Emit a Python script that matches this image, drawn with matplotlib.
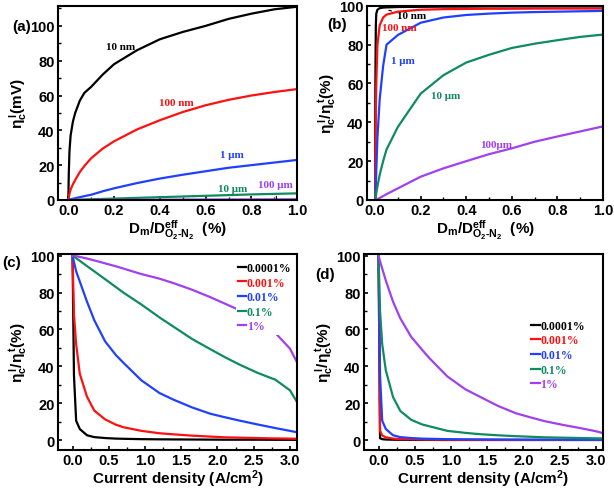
import numpy as np
import matplotlib
matplotlib.use("Agg")
import matplotlib.pyplot as plt
from matplotlib.ticker import MultipleLocator

plt.rcParams['font.family'] = ['Liberation Sans', 'DejaVu Sans']
plt.rcParams['font.weight'] = 'bold'
plt.rcParams['axes.labelweight'] = 'bold'
plt.rcParams['mathtext.fontset'] = 'custom'
plt.rcParams['mathtext.rm'] = 'Liberation Sans:bold'
plt.rcParams['mathtext.it'] = 'Liberation Sans:italic:bold'
plt.rcParams['mathtext.bf'] = 'Liberation Sans:bold'
plt.rcParams['mathtext.default'] = 'rm'

BLACK, RED, BLUE, GREEN, PURPLE = '#000000', '#ff1010', '#2040ff', '#108a60', '#a040f0'
colors = [BLACK, RED, BLUE, GREEN, PURPLE]

# (a) overpotential vs diffusivity ratio
xa = [0, 0.002, 0.005, 0.01, 0.02, 0.03, 0.05, 0.07, 0.1, 0.15, 0.2, 0.3, 0.4, 0.5, 0.6, 0.7, 0.8, 0.9, 1.0]
a_10nm = [0, 15, 28, 37, 45, 50, 57, 61.5, 65, 72, 78, 86, 92.3, 96.5, 100, 104, 107, 109.5, 111]
a_100nm = [0, 1.5, 3.5, 6, 9, 11.5, 16, 19.5, 24, 29.5, 33.7, 40.5, 45.8, 50.5, 54.4, 57.5, 60, 62, 63.7]
a_1um = [0, 0.1, 0.2, 0.4, 0.7, 1, 1.6, 2.2, 3, 5, 6.7, 9.7, 12.3, 14.5, 16.5, 18.5, 20, 21.5, 23]
a_10um = [0, 0, 0.02, 0.04, 0.08, 0.12, 0.2, 0.28, 0.4, 0.6, 0.8, 1.2, 1.6, 2.0, 2.4, 2.8, 3.2, 3.5, 3.8]
a_100um = [0, 0, 0, 0, 0.01, 0.01, 0.02, 0.03, 0.04, 0.06, 0.08, 0.12, 0.16, 0.2, 0.24, 0.28, 0.32, 0.36, 0.4]

# (b) ratio vs diffusivity ratio
xb = [0, 0.001, 0.003, 0.005, 0.01, 0.02, 0.035, 0.05, 0.1, 0.2, 0.3, 0.4, 0.5, 0.6, 0.7, 0.8, 0.9, 1.0]
b_10nm = [0, 60, 90, 96, 98, 98.8, 99.1, 99.2, 99.4, 99.5, 99.6, 99.6, 99.7, 99.7, 99.7, 99.7, 99.7, 99.7]
b_100nm = [0, 20, 45, 60, 80, 90, 94, 95.5, 97, 98, 98.3, 98.4, 98.5, 98.5, 98.6, 98.6, 98.6, 98.6]
b_1um = [0, 2, 8, 15, 32, 52, 69, 80, 85, 91.3, 94, 95.3, 96, 96.5, 96.8, 97, 97.2, 97.4]
b_10um = [0, 0.6, 2, 3.5, 7, 13, 20, 26, 37.7, 54.8, 64.3, 70.8, 74.8, 78.3, 80.5, 82.3, 84, 85.2]
b_100um = [0, 0, 0.1, 0.2, 0.5, 1, 2, 3, 6, 12, 16.3, 20, 23.6, 26.6, 30, 32.7, 35.3, 37.9]

# (c), (d) ratio vs current density
xj = [0, 0.02, 0.05, 0.1, 0.2, 0.3, 0.45, 0.6, 0.7, 0.95, 1.2, 1.4, 1.65, 1.9, 2.1, 2.3, 2.55, 2.8, 3.0, 3.1]
c_1 = [100, 35, 10.5, 6, 2.6, 1.6, 1.1, 0.8, 0.7, 0.5, 0.4, 0.35, 0.3, 0.25, 0.2, 0.2, 0.2, 0.15, 0.15, 0.1]
c_2 = [100, 68, 52, 36, 23.5, 16, 11.2, 8.3, 7, 5, 3.7, 3.1, 2.4, 1.9, 1.5, 1.3, 1.1, 0.9, 0.8, 0.7]
c_3 = [100, 96.5, 91.5, 86, 75, 65, 53.5, 46, 42, 32.4, 25.5, 21.8, 17.7, 14.3, 12.4, 10.6, 8.5, 6.5, 5, 4.2]
c_4 = [100, 99.4, 98.6, 97.2, 94.3, 91.5, 87.2, 82.9, 80, 73.5, 66.5, 61.3, 54.8, 49.3, 45, 41, 36.5, 32.7, 27, 20.5]
c_5 = [100, 99.9, 99.7, 99.3, 98.4, 97.4, 95.8, 94.2, 93, 90, 87.5, 85, 81.5, 77.5, 74, 70.5, 66, 58, 49.6, 42]
d_1 = [100, 1, 0.5, 0.3, 0.2, 0.15, 0.1, 0.1, 0.1, 0.05, 0.05, 0.05, 0.05, 0.05, 0.05, 0.05, 0.05, 0.05, 0.05, 0.05]
d_2 = [100, 5, 2.5, 1.5, 0.8, 0.5, 0.4, 0.3, 0.25, 0.2, 0.15, 0.1, 0.1, 0.1, 0.1, 0.1, 0.1, 0.1, 0.1, 0.1]
d_3 = [100, 35, 10.5, 6, 2.6, 1.6, 1.1, 0.8, 0.7, 0.5, 0.4, 0.35, 0.3, 0.25, 0.2, 0.2, 0.2, 0.15, 0.15, 0.1]
d_4 = [100, 70, 52, 37.8, 23.3, 15.8, 11, 8.5, 7.5, 5, 3.9, 3.2, 2.6, 2.1, 1.8, 1.5, 1.3, 1.1, 0.95, 0.9]
d_5 = [100, 97, 93, 86.5, 75, 66, 56, 49, 44.5, 34.5, 27.5, 23.5, 18.5, 14.5, 12.3, 10.2, 8.2, 6.4, 4.8, 3.8]

legend_labels = ['0.0001%', '0.001%', '0.01%', '0.1%', '1%']

fig = plt.figure(figsize=(6.14, 4.89), dpi=100)
ax_a = fig.add_axes([0.0945, 0.589, 0.3895, 0.397])
ax_b = fig.add_axes([0.598, 0.589, 0.384, 0.397])
ax_c = fig.add_axes([0.0945, 0.078, 0.3895, 0.401])
ax_d = fig.add_axes([0.593, 0.078, 0.389, 0.401])

lw = 1.6
serif = dict(family='Liberation Serif', weight='bold', fontsize=8)

def style(ax):
    for s in ax.spines.values():
        s.set_linewidth(1.5)
    ax.tick_params(direction='in', which='both', labelsize=10.5, top=False, right=False, pad=2.5)
    ax.tick_params(which='major', length=3, width=1.2)
    ax.tick_params(which='minor', length=2, width=1)
    for t in ax.get_xticklabels() + ax.get_yticklabels():
        t.set_fontweight('bold')

xlab_d = r'$D_m/D^{eff}_{O_2\text{-}N_2}$  (%)'

# (a)
for y, c in zip([a_10nm, a_100nm, a_1um, a_10um, a_100um], colors):
    ax_a.plot(xa, y, color=c, lw=lw)
ax_a.set_xlim(-0.045, 1.0)
ax_a.set_ylim(0, 111.5)
ax_a.xaxis.set_major_locator(MultipleLocator(0.2))
ax_a.xaxis.set_minor_locator(MultipleLocator(0.1))
ax_a.yaxis.set_major_locator(MultipleLocator(20))
ax_a.yaxis.set_minor_locator(MultipleLocator(10))
ax_a.set_ylabel(r'$\eta_c^{\,l}$(mV)', fontsize=11, labelpad=1)
ax_a.set_xlabel(xlab_d, fontsize=11, labelpad=0)
ax_a.text(0.23, 88, '10 nm', color=BLACK, ha='center', va='center', **serif)
ax_a.text(0.47, 56, '100 nm', color=RED, ha='center', va='center', **serif)
ax_a.text(0.715, 26, '1 μm', color=BLUE, ha='center', va='center', **serif)
ax_a.text(0.72, 6.8, '10 μm', color=GREEN, ha='center', va='center', **serif)
ax_a.annotate('100 μm', xy=(0.91, 0.4), xytext=(0.905, 8.7), color=PURPLE, ha='center',
              va='center', arrowprops=dict(arrowstyle='-', color=BLACK, lw=0.8, shrinkA=3, shrinkB=0),
              **serif)
style(ax_a)

# (b)
for y, c in zip([b_10nm, b_100nm, b_1um, b_10um, b_100um], colors):
    ax_b.plot(xb, y, color=c, lw=lw)
ax_b.set_xlim(-0.035, 1.0)
ax_b.set_ylim(0, 100)
ax_b.xaxis.set_major_locator(MultipleLocator(0.2))
ax_b.xaxis.set_minor_locator(MultipleLocator(0.1))
ax_b.yaxis.set_major_locator(MultipleLocator(20))
ax_b.yaxis.set_minor_locator(MultipleLocator(10))
ax_b.set_ylabel(r'$\eta_c^{\,l}/\eta_c^{\,t}$(%)', fontsize=11, labelpad=1)
ax_b.set_xlabel(xlab_d, fontsize=11, labelpad=0)
ax_b.annotate('10 nm', xy=(0.06, 97.7), xytext=(0.16, 94.8), color=BLACK, ha='center',
              va='center', arrowprops=dict(arrowstyle='-', color=BLACK, lw=0.8, shrinkA=2, shrinkB=0),
              **serif)
ax_b.text(0.105, 89, '100 nm', color=RED, ha='center', va='center', **serif)
ax_b.text(0.12, 72, '1 μm', color=BLUE, ha='center', va='center', **serif)
ax_b.text(0.31, 54, '10 μm', color=GREEN, ha='center', va='center', **serif)
ax_b.text(0.53, 28.7, '100μm', color=PURPLE, ha='center', va='center', **serif)
style(ax_b)

# (c), (d)
for ax, series, loc in [(ax_c, [c_1, c_2, c_3, c_4, c_5], (0.743, 0.97)),
                        (ax_d, [d_1, d_2, d_3, d_4, d_5], (0.69, 0.675))]:
    for y, c, lab in zip(series, colors, legend_labels):
        ax.plot(xj, y, color=c, lw=lw, label=lab)
    ax.set_xlim(-0.2, 3.1)
    ax.set_ylim(-5.3, 101)
    ax.xaxis.set_major_locator(MultipleLocator(0.5))
    ax.xaxis.set_minor_locator(MultipleLocator(0.25))
    ax.yaxis.set_major_locator(MultipleLocator(20))
    ax.yaxis.set_minor_locator(MultipleLocator(10))
    ax.set_ylabel(r'$\eta_c^{\,l}/\eta_c^{\,t}$(%)', fontsize=11, labelpad=1)
    ax.set_xlabel(r'Current density (A/cm$^2$)', fontsize=11, labelpad=0)
    leg = ax.legend(loc='upper left', bbox_to_anchor=loc, frameon=True, framealpha=1,
                    edgecolor='none', facecolor='white', handlelength=0.7, handletextpad=0.05,
                    labelspacing=0.22, borderpad=0.2, borderaxespad=0,
                    prop=dict(family='Liberation Serif', weight='bold', size=8.5))
    for t, c in zip(leg.get_texts(), colors):
        t.set_color(c)
    style(ax)

fig.text(12 / 614, 1 - 27 / 489, '(a)', fontsize=11, fontweight='bold', va='center')
fig.text(327 / 614, 1 - 25 / 489, '(b)', fontsize=11, fontweight='bold', va='center')
fig.text(2 / 614, 1 - 263 / 489, '(c)', fontsize=11, fontweight='bold', va='center')
fig.text(315 / 614, 1 - 275 / 489, '(d)', fontsize=11, fontweight='bold', va='center')

fig.savefig('out.png', dpi=100)
